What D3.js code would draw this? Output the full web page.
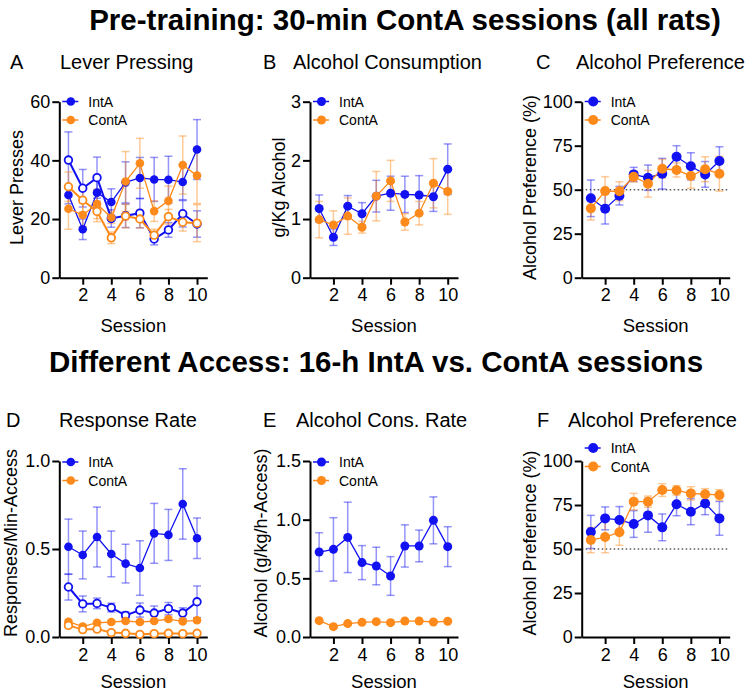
<!DOCTYPE html>
<html>
<head>
<meta charset="utf-8">
<script src="https://cdn.jsdelivr.net/npm/d3@7"></script>
<style>
  body { margin: 0; background: #fff; }
  svg { font-family: "Liberation Sans", Arial, sans-serif; }
</style>
</head>
<body>
<svg id="fig"></svg>
<script>
const width = 750;
const height = 693;

const sessions = [1, 2, 3, 4, 5, 6, 7, 8, 9, 10];
const xTicks = [2, 4, 6, 8, 10];
const groups = ['IntA', 'ContA'];

// A: lever presses (filled = active, open = inactive)
const leverActiveIntA = [28.2, 16.5, 29.0, 25.8, 32.5, 34.0, 33.5, 33.4, 32.6, 43.7];
const leverActiveIntAErr = [3, 3.5, 5, 4.5, 7, 7, 7.5, 8, 6, 10.2];
const leverInactiveIntA = [40.1, 30.5, 34.1, 20.2, 21.1, 22.0, 13.2, 16.3, 21.8, 18.3];
const leverInactiveIntAErr = [9.6, 6.4, 7, 3, 4, 5, 2, 2.5, 4.5, 4.5];
const leverActiveContA = [23.5, 21.4, 25.1, 20.5, 32.8, 39.0, 22.7, 26.2, 38.4, 34.8];
const leverActiveContAErr = [7, 4, 5, 2, 10.2, 8.5, 3.5, 5, 9.9, 9.5];
const leverInactiveContA = [31.0, 26.4, 22.6, 13.6, 21.0, 20.0, 14.5, 20.8, 18.9, 18.6];
const leverInactiveContAErr = [5, 4, 3.5, 2, 4, 3, 2, 2.5, 3, 6.3];

// B: alcohol consumption (g/kg)
const consIntA = [1.18, 0.69, 1.22, 1.09, 1.39, 1.44, 1.42, 1.41, 1.38, 1.85];
const consIntAErr = [0.23, 0.14, 0.18, 0.19, 0.27, 0.29, 0.31, 0.33, 0.25, 0.43];
const consContA = [0.99, 0.90, 1.05, 0.86, 1.39, 1.65, 0.95, 1.10, 1.61, 1.47];
const consContAErr = [0.31, 0.24, 0.31, 0.1, 0.42, 0.35, 0.14, 0.2, 0.42, 0.39];

// C: alcohol preference, pre-training (%)
const prefPreIntA = [45.1, 39.2, 46.6, 58.7, 56.8, 59.1, 68.7, 63.3, 58.7, 66.3];
const prefPreIntAErr = [10.4, 8.7, 5.3, 4, 7.2, 8.7, 6.3, 7.7, 7.3, 8.1];
const prefPreContA = [39.4, 49.2, 49.1, 57.4, 53.4, 61.9, 61.2, 57.8, 61.6, 59.1];
const prefPreContAErr = [6.6, 8.2, 5.4, 3, 7.6, 5.3, 4, 7, 7.1, 9.9];

// D: response rate (filled = active, open = inactive)
const rateActiveIntA = [0.513, 0.466, 0.568, 0.472, 0.417, 0.392, 0.589, 0.580, 0.756, 0.561];
const rateActiveIntAErr = [0.157, 0.136, 0.17, 0.13, 0.11, 0.155, 0.17, 0.145, 0.2, 0.115];
const rateInactiveIntA = [0.284, 0.188, 0.191, 0.167, 0.123, 0.153, 0.136, 0.161, 0.136, 0.2];
const rateInactiveIntAErr = [0.074, 0.045, 0.03, 0.025, 0.02, 0.04, 0.04, 0.035, 0.03, 0.09];
const rateActiveContA = [0.087, 0.059, 0.081, 0.085, 0.091, 0.085, 0.091, 0.102, 0.089, 0.095];
const rateActiveContAErr = [0.01, 0.01, 0.01, 0.01, 0.01, 0.01, 0.01, 0.012, 0.01, 0.01];
const rateInactiveContA = [0.066, 0.042, 0.045, 0.025, 0.021, 0.015, 0.019, 0.021, 0.019, 0.021];
const rateInactiveContAErr = [0.01, 0.008, 0.008, 0.005, 0.005, 0.004, 0.004, 0.005, 0.004, 0.005];

// E: alcohol consumption rate (g/kg/h-access)
const consRateIntA = [0.724, 0.747, 0.849, 0.634, 0.605, 0.52, 0.776, 0.776, 0.994, 0.77];
const consRateIntAErr = [0.165, 0.27, 0.30, 0.145, 0.16, 0.165, 0.18, 0.135, 0.2, 0.17];
const consRateContA = [0.139, 0.088, 0.114, 0.125, 0.131, 0.122, 0.136, 0.136, 0.128, 0.134];
const consRateContAErr = [0.01, 0.01, 0.01, 0.01, 0.01, 0.01, 0.01, 0.01, 0.01, 0.01];

// F: alcohol preference, different access (%)
const prefIntA = [59.7, 67.4, 66.5, 64.2, 69.1, 62.3, 75.4, 71.2, 75.9, 67.4];
const prefIntAErr = [9.4, 6.5, 7.6, 7.6, 9.6, 7.6, 6.5, 7.4, 6.4, 9.6];
const prefContA = [55.1, 56.8, 59.5, 76.9, 76.9, 83.5, 83.3, 81.6, 81.1, 80.7];
const prefContAErr = [7.2, 8.9, 7.4, 4.7, 3.2, 3.6, 2.7, 3.8, 3.2, 3];

const mainTitles = ['Pre-training: 30-min ContA sessions (all rats)',
                    'Different Access: 16-h IntA vs. ContA sessions'];

const blue = '#1111f2';
const orange = '#fd8a1a';

const svg = d3.select('#fig')
  .attr('width', width)
  .attr('height', height);

svg.append('text')
  .attr('x', 405).attr('y', 30)
  .attr('text-anchor', 'middle')
  .attr('font-size', 29.5).attr('font-weight', 'bold')
  .text(mainTitles[0]);
svg.append('text')
  .attr('x', 376).attr('y', 372)
  .attr('text-anchor', 'middle')
  .attr('font-size', 29.5).attr('font-weight', 'bold')
  .text(mainTitles[1]);

const row1 = {top: 101.7, bottom: 277.7, titleY: 69, labelMid: 187.5, sessY: 331.5};
const row2 = {top: 461, bottom: 637, titleY: 427, labelMid: 543, sessY: 688};

const panels = [
  {letter: 'A', lx: 10, title: 'Lever Pressing', tx: 60, row: row1, x0: 59.3, ylab: 'Lever Presses', ylx: 22.5,
   yDomain: [0, 60], yTicks: [0, 20, 40, 60], fmt: d3.format('d'), r: 4.3, legY: 101.5,
   series: [
     {v: leverActiveIntA, e: leverActiveIntAErr, c: blue, open: false},
     {v: leverInactiveIntA, e: leverInactiveIntAErr, c: blue, open: true},
     {v: leverActiveContA, e: leverActiveContAErr, c: orange, open: false},
     {v: leverInactiveContA, e: leverInactiveContAErr, c: orange, open: true}]},
  {letter: 'B', lx: 263, title: 'Alcohol Consumption', tx: 293, row: row1, x0: 310, ylab: 'g/Kg Alcohol', ylx: 284.5,
   yDomain: [0, 3], yTicks: [0, 1, 2, 3], fmt: d3.format('d'), r: 4.5, legY: 101.5,
   series: [
     {v: consIntA, e: consIntAErr, c: blue, open: false},
     {v: consContA, e: consContAErr, c: orange, open: false}]},
  {letter: 'C', lx: 536, title: 'Alcohol Preference', tx: 576, row: row1, x0: 581.7, ylab: 'Alcohol Preference (%)', ylx: 536,
   yDomain: [0, 100], yTicks: [0, 25, 50, 75, 100], fmt: d3.format('d'), r: 5, legY: 101.5, ref: 50,
   series: [
     {v: prefPreIntA, e: prefPreIntAErr, c: blue, open: false},
     {v: prefPreContA, e: prefPreContAErr, c: orange, open: false}]},
  {letter: 'D', lx: 6, title: 'Response Rate', tx: 59, row: row2, x0: 59.3, ylab: 'Responses/Min-Access', ylx: 16.5,
   yDomain: [0, 1], yTicks: [0, 0.5, 1], fmt: d3.format('.1f'), r: 4.3, legY: 462,
   series: [
     {v: rateActiveIntA, e: rateActiveIntAErr, c: blue, open: false},
     {v: rateInactiveIntA, e: rateInactiveIntAErr, c: blue, open: true},
     {v: rateActiveContA, e: rateActiveContAErr, c: orange, open: false},
     {v: rateInactiveContA, e: rateInactiveContAErr, c: orange, open: true}]},
  {letter: 'E', lx: 263, title: 'Alcohol Cons. Rate', tx: 296, row: row2, x0: 310, ylab: 'Alcohol (g/kg/h-Access)', ylx: 267,
   yDomain: [0, 1.5], yTicks: [0, 0.5, 1, 1.5], fmt: d3.format('.1f'), r: 4.5, legY: 462,
   series: [
     {v: consRateIntA, e: consRateIntAErr, c: blue, open: false},
     {v: consRateContA, e: consRateContAErr, c: orange, open: false}]},
  {letter: 'F', lx: 537, title: 'Alcohol Preference', tx: 568, row: row2, x0: 581.7, ylab: 'Alcohol Preference (%)', ylx: 536,
   yDomain: [0, 100], yTicks: [0, 25, 50, 75, 100], fmt: d3.format('d'), r: 5, legY: 448, ref: 50,
   series: [
     {v: prefIntA, e: prefIntAErr, c: blue, open: false},
     {v: prefContA, e: prefContAErr, c: orange, open: false}]}
];

panels.forEach(function (p) {
  const g = svg.append('g');
  const x = d3.scaleLinear().domain([0.36, 10.72]).range([p.x0, p.x0 + 148]);
  const y = d3.scaleLinear().domain(p.yDomain).range([p.row.bottom, p.row.top]);

  // panel letter + title
  g.append('text').attr('x', p.lx).attr('y', p.row.titleY).attr('font-size', 20).text(p.letter);
  g.append('text').attr('x', p.tx).attr('y', p.row.titleY).attr('font-size', 20).text(p.title);

  // reference line
  if (p.ref !== undefined) {
    g.append('line')
      .attr('x1', x.range()[0]).attr('x2', x.range()[1])
      .attr('y1', y(p.ref)).attr('y2', y(p.ref))
      .attr('stroke', '#555').attr('stroke-width', 1.5)
      .attr('stroke-dasharray', '1.5,2.5');
  }

  // axes
  const yAxis = g.append('g')
    .attr('transform', `translate(${p.x0},0)`)
    .call(d3.axisLeft(y).tickValues(p.yTicks).tickFormat(p.fmt).tickSize(7).tickSizeOuter(0).tickPadding(2));
  const xAxis = g.append('g')
    .attr('transform', `translate(0,${p.row.bottom})`)
    .call(d3.axisBottom(x).tickValues(xTicks).tickSize(7).tickSizeOuter(0).tickPadding(4));
  [yAxis, xAxis].forEach(function (a) {
    a.select('.domain').attr('stroke', '#000').attr('stroke-width', 2);
    a.selectAll('.tick line').attr('stroke', '#000').attr('stroke-width', 2);
    a.selectAll('.tick text').attr('font-size', 18).attr('font-family', '"Liberation Sans", Arial, sans-serif').attr('fill', '#000');
  });

  // axis titles
  g.append('text')
    .attr('x', (x.range()[0] + x.range()[1]) / 2).attr('y', p.row.sessY)
    .attr('text-anchor', 'middle').attr('font-size', 18.5)
    .text('Session');
  g.append('text')
    .attr('transform', `translate(${p.ylx},${p.row.labelMid}) rotate(-90)`)
    .attr('text-anchor', 'middle').attr('font-size', 18)
    .text(p.ylab);

  // error bars
  p.series.forEach(function (s) {
    const eb = g.append('g')
      .attr('stroke', s.c).attr('stroke-opacity', 0.45).attr('stroke-width', 1.5);
    sessions.forEach(function (d, i) {
      const cx = x(d);
      const y1 = y(s.v[i] + s.e[i]);
      const y2 = y(Math.max(0, s.v[i] - s.e[i]));
      eb.append('line').attr('x1', cx).attr('x2', cx).attr('y1', y1).attr('y2', y2);
      eb.append('line').attr('x1', cx - 4).attr('x2', cx + 4).attr('y1', y1).attr('y2', y1);
      eb.append('line').attr('x1', cx - 4).attr('x2', cx + 4).attr('y1', y2).attr('y2', y2);
    });
  });

  // lines and markers
  const line = d3.line().x((d, i) => x(sessions[i])).y(d => y(d));
  p.series.forEach(function (s) {
    g.append('path')
      .datum(s.v)
      .attr('d', line)
      .attr('fill', 'none')
      .attr('stroke', s.c)
      .attr('stroke-width', s.open ? 2 : 1.3);
  });
  p.series.forEach(function (s) {
    g.selectAll(null)
      .data(s.v)
      .enter().append('circle')
      .attr('cx', (d, i) => x(sessions[i]))
      .attr('cy', d => y(d))
      .attr('r', s.open ? p.r - 0.5 : p.r)
      .attr('fill', s.open ? '#fff' : s.c)
      .attr('stroke', s.c)
      .attr('stroke-width', s.open ? 1.8 : 0);
  });

  // legend
  groups.forEach(function (name, i) {
    const ly = p.legY + i * 18.5;
    const c = i === 0 ? blue : orange;
    const lg = g.append('g');
    lg.append('line')
      .attr('x1', p.x0 + 3).attr('x2', p.x0 + 19)
      .attr('y1', ly).attr('y2', ly)
      .attr('stroke', c).attr('stroke-width', 1.5);
    lg.append('circle')
      .attr('cx', p.x0 + 11.5).attr('cy', ly).attr('r', p.r)
      .attr('fill', c);
    lg.append('text')
      .attr('x', p.x0 + 29).attr('y', ly + 5)
      .attr('font-size', 14)
      .text(name);
  });
});
</script>
</body>
</html>
